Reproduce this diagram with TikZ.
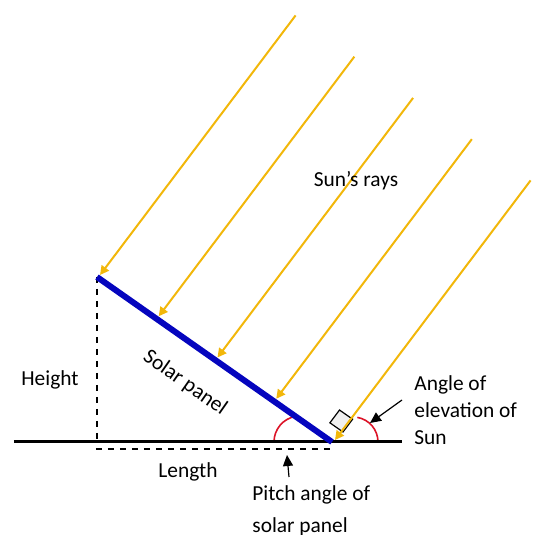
\documentclass[tikz,border=0pt]{standalone}
\usepackage{fontspec}
\setmainfont{Carlito}
\usetikzlibrary{arrows.meta,calc}
\definecolor{raygold}{RGB}{242,183,10}
\definecolor{panelblue}{RGB}{5,5,190}
\definecolor{arcred}{RGB}{220,20,40}
\begin{document}
\begin{tikzpicture}[x=0.5pt, y=0.5pt, font=\fontsize{10.7}{13.5}\selectfont,
    ray/.style={raygold, line width=1pt, {Triangle[length=4.5pt,width=4.5pt]}-},
    pointer/.style={-{Triangle[length=5.5pt,width=5pt]}, line width=0.6pt},
    label/.style={inner sep=0pt}]
            \useasboundingbox (0,0) rectangle (538,535);
            \coordinate (T) at (97,258);
            \coordinate (B) at (332,93);
            \coordinate (G1) at (14,93);
            \coordinate (G2) at (402,93);
            \draw[dashed, line width=0.75pt] (T) -- (97,93);
            \draw[dashed, line width=0.75pt] (96,86) -- (333,86);
            \draw[arcred, line width=0.8pt] (274,93) arc[start angle=180, end angle=100, radius=13pt];
            \draw[arcred, line width=0.8pt] (378,93) arc[start angle=0, end angle=80, radius=12.5pt];
            \draw[line width=0.6pt, fill=gray!12] (343,103) -- ++(145:8pt) -- ++(53:8pt) -- ++(-35:8pt) -- cycle;
            \draw[line width=1.5pt] (G1) -- (G2);
            \draw[panelblue, line width=3pt] (T) -- (B);
            \foreach \i in {0,...,4}
                \draw[ray] ($(T)!\i/4!(B)+(3,2)$) coordinate (tip\i) -- ++(53:325) coordinate (src\i);
            \node[label] (rays) at (356,354) {Sun’s rays};
            \node[label] (height) at (50,155) {Height};
            \node[label] (length) at (188,63) {Length};
            \node[label, rotate=-35] (panel) at (185,152) {Solar panel};
            \node[label, anchor=west, align=left] (elev) at (414,125) {Angle of\\elevation of\\Sun};
            \node[label, anchor=west, align=left, font=\fontsize{10.7}{16}\selectfont] (pitch) at (252,24) {Pitch angle of\\solar panel};
            \coordinate (elevtail) at (402,135);
            \coordinate (elevtip) at (370,112);
            \coordinate (pitchtail) at (289,58);
            \coordinate (pitchtip) at (287,80);
            \draw[pointer] (elevtail) -- (elevtip);
            \draw[pointer] (pitchtail) -- (pitchtip);
        \end{tikzpicture}
\end{document}
